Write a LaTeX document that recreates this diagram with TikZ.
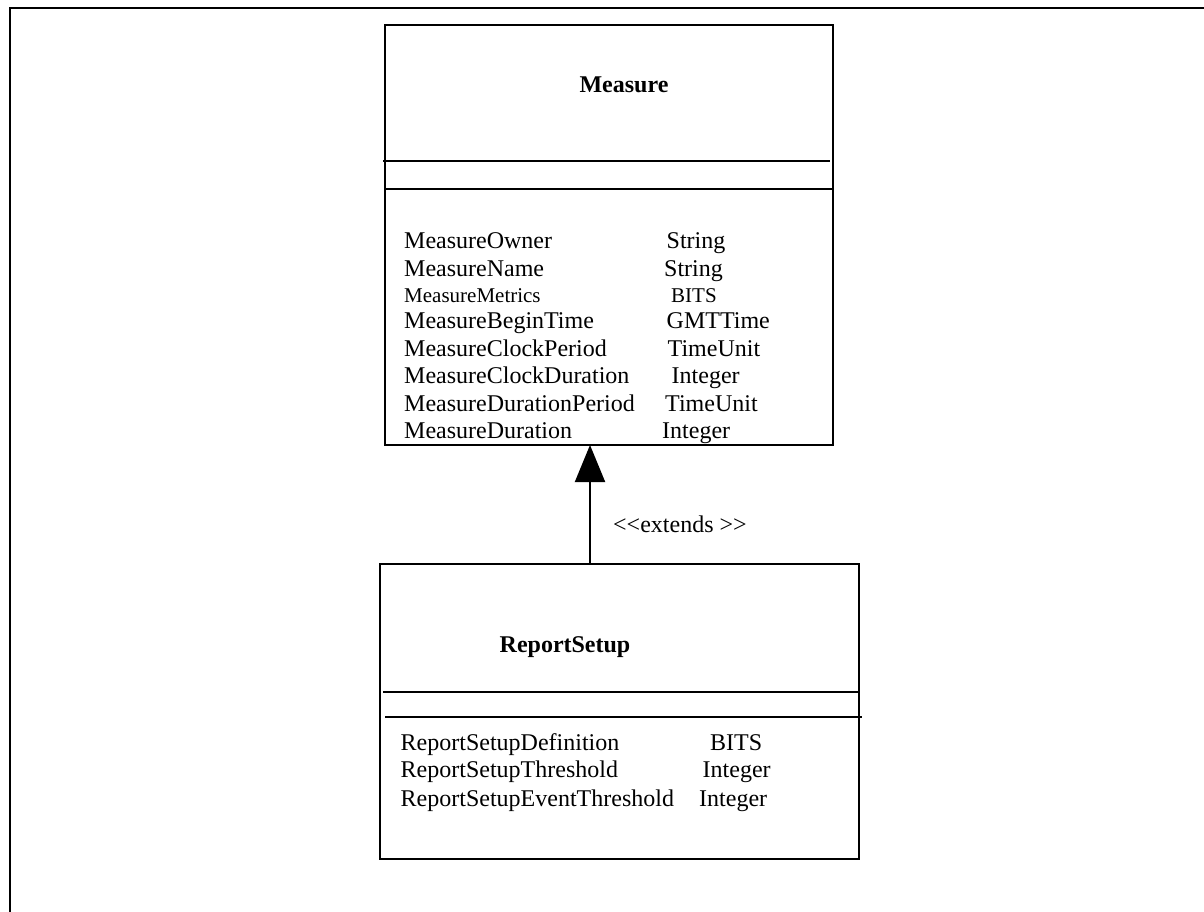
\documentclass[tikz,border=0pt]{standalone}
\usepackage{fontspec}
\setmainfont{Liberation Serif}
\usetikzlibrary{arrows.meta}
\begin{document}
\begin{tikzpicture}[x=1pt,y=-1pt,
  classbox/.style={draw, line width=2pt, rectangle, inner sep=0pt},
  rule/.style={line width=2pt},
  attr/.style={anchor=base west, inner sep=0pt, font=\fontsize{24}{28}\selectfont},
  attrsmall/.style={anchor=base west, inner sep=0pt, font=\fontsize{21}{24}\selectfont},
  title/.style={anchor=base, inner sep=0pt, font=\fontsize{24}{28}\selectfont\bfseries},
  extends/.style={-{Triangle[width=30pt,length=37pt]}, line width=2pt}]
\useasboundingbox (0,0) rectangle (1204,912);
% outer frame, open at right and bottom
\draw[line width=2.4pt] (10,912) -- (10,8) -- (1204,8);

% class Measure
\node[classbox, minimum width=448pt, minimum height=420pt] (measure) at (609,235) {};
\draw[rule] (383,161) -- (830,161);
\draw[rule] (385,189) -- (832,189);
\node[title] (mtitle) at (624,93) {Measure};
\node[attr] (m1) at (404,248) {MeasureOwner};
\node[attr] (m2) at (404,276) {MeasureName};
\node[attrsmall] (m3) at (404,302) {MeasureMetrics};
\node[attr] (m4) at (404,328) {MeasureBeginTime};
\node[attr] (m5) at (404,356) {MeasureClockPeriod};
\node[attr] (m6) at (404,383) {MeasureClockDuration};
\node[attr] (m7) at (404,411) {MeasureDurationPeriod};
\node[attr] (m8) at (404,438.5) {MeasureDuration};
\node[attr] (t1) at (666.5,248) {String};
\node[attr] (t2) at (664,276) {String};
\node[attrsmall] (t3) at (671,302) {BITS};
\node[attr] (t4) at (666.5,328) {GMTTime};
\node[attr] (t5) at (667.5,356) {TimeUnit};
\node[attr] (t6) at (671.5,383) {Integer};
\node[attr] (t7) at (665,411) {TimeUnit};
\node[attr] (t8) at (662,438.5) {Integer};

% class ReportSetup
\node[classbox, minimum width=479pt, minimum height=295pt] (report) at (619.5,711.5) {};
\draw[rule] (383,692) -- (859,692);
\draw[rule] (385,717) -- (862,717);
\node[title] (rtitle) at (565,652) {ReportSetup};
\node[attr] (r1) at (400.5,750) {ReportSetupDefinition};
\node[attr] (r2) at (400.5,777.5) {ReportSetupThreshold};
\node[attr] (r3) at (400.5,806) {ReportSetupEventThreshold};
\node[attr] (u1) at (710,750) {BITS};
\node[attr] (u2) at (702.5,777.5) {Integer};
\node[attr] (u3) at (699,806) {Integer};

% generalisation
\coordinate (rtop) at (590,564);
\coordinate (mbot) at (590,445);
\draw[extends] (rtop) -- (mbot);
\node[attr] (lbl) at (613,532) {<{}<extends >{}>};
\end{tikzpicture}
\end{document}
